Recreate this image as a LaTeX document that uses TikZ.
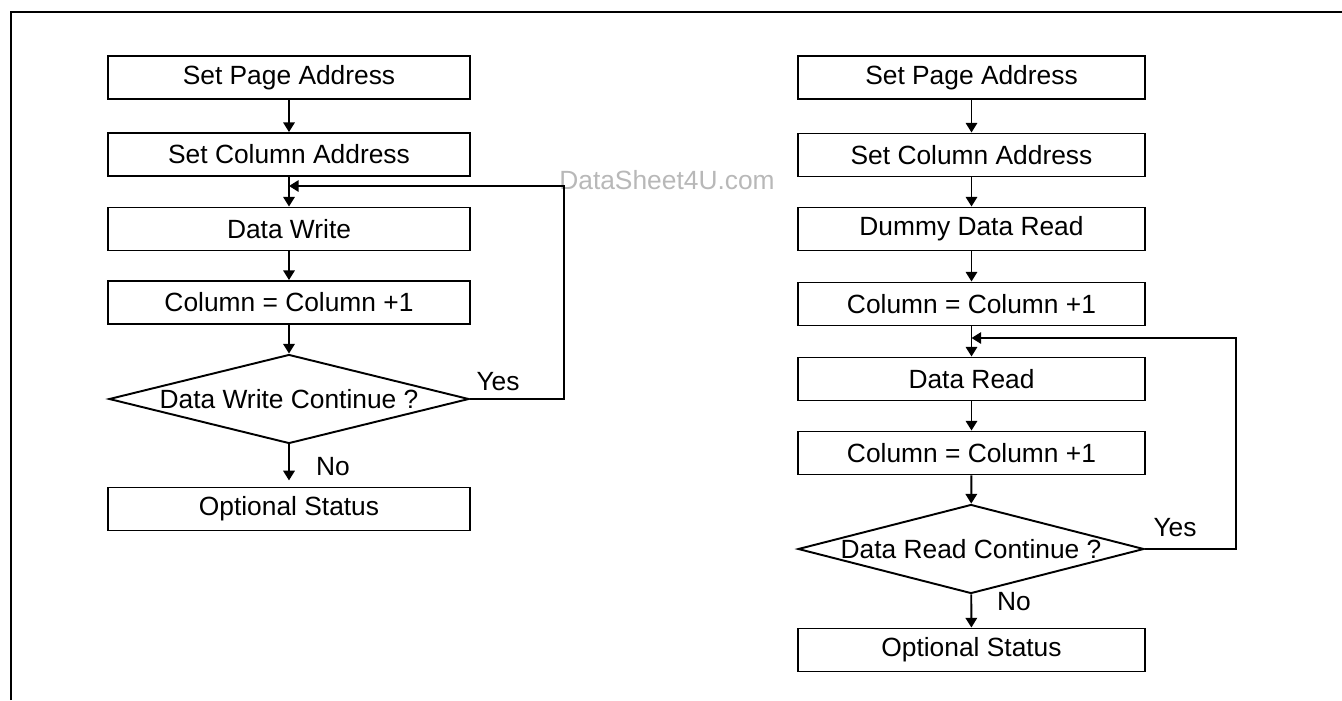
\documentclass[tikz,border=0pt]{standalone}
\usepackage{fontspec}
\setmainfont{Liberation Sans}
\usetikzlibrary{shapes.geometric,arrows.meta}
\tikzstyle{block} = [draw, line width=1.1pt, minimum height=0.86cm, inner sep=0pt]
\tikzstyle{lblock} = [block, minimum width=7.24cm]
\tikzstyle{rblock} = [block, minimum width=6.94cm]
\tikzstyle{test} = [draw, diamond, aspect=4, inner sep=0pt, line width=1.1pt, minimum height=1.78cm]
\tikzstyle{flow} = [->, line width=1.1pt]

\begin{document}
\begin{tikzpicture}[x=0.02cm, y=-0.02cm, font=\fontsize{15}{18}\selectfont, >={Triangle[width=6.5pt,length=5.5pt]}]
			\useasboundingbox (0,0) rectangle (1342,700);
			\draw[line width=1.7pt] (11,700) -- (11,12) -- (1342,12);
			\node[text=black!28] (mark) at (667,180) {DataSheet4U.com};
			\node[lblock] (l1) at (289,77.5) {Set Page Address};
			\node[lblock] (l2) at (289,154.5) {Set Column Address};
			\node[lblock] (l3) at (289,229) {Data Write};
			\node[lblock] (l4) at (289,302.5) {Column = Column +1};
			\node[test, minimum width=7.2cm] (ld) at (289,399) {Data Write Continue ?};
			\node[lblock] (l5) at (289,509) {Optional Status};
			\node (lyes) at (498,382) {Yes};
			\node (lno) at (333,467) {No};
			\coordinate (lturn) at (564,186);
			\coordinate (ljoin) at (289,186);
			\draw[flow] (l1) -- (l2);
			\draw[flow] (l2) -- (l3);
			\draw[flow] (l3) -- (l4);
			\draw[flow] (l4) -- (ld);
			\draw[flow, shorten >=3.5pt] (ld) -- (l5);
			\draw[flow] (ld.east) -| (lturn) -- (ljoin);
			\node[rblock] (r1) at (971.5,77.5) {Set Page Address};
			\node[rblock] (r2) at (971.5,155) {Set Column Address};
			\node[rblock] (r3) at (971.5,229) {Dummy Data Read};
			\node[rblock] (r4) at (971.5,304) {Column = Column +1};
			\node[rblock] (r5) at (971.5,379) {Data Read};
			\node[rblock] (r6) at (971.5,453) {Column = Column +1};
			\node[test, minimum width=6.92cm] (rd) at (971,549) {Data Read Continue ?};
			\node[rblock] (r7) at (971.5,650) {Optional Status};
			\node (ryes) at (1175,528) {Yes};
			\node (rno) at (1014,602) {No};
			\coordinate (rturn) at (1236,338);
			\coordinate (rjoin) at (971.5,338);
			\draw[flow] (r1) -- (r2);
			\draw[flow] (r2) -- (r3);
			\draw[flow] (r3) -- (r4);
			\draw[flow] (r4) -- (r5);
			\draw[flow] (r5) -- (r6);
			\draw[flow] (r6) -- (rd);
			\draw[flow] (rd) -- (r7);
			\draw[flow] (rd.east) -| (rturn) -- (rjoin);
		\end{tikzpicture}
\end{document}
